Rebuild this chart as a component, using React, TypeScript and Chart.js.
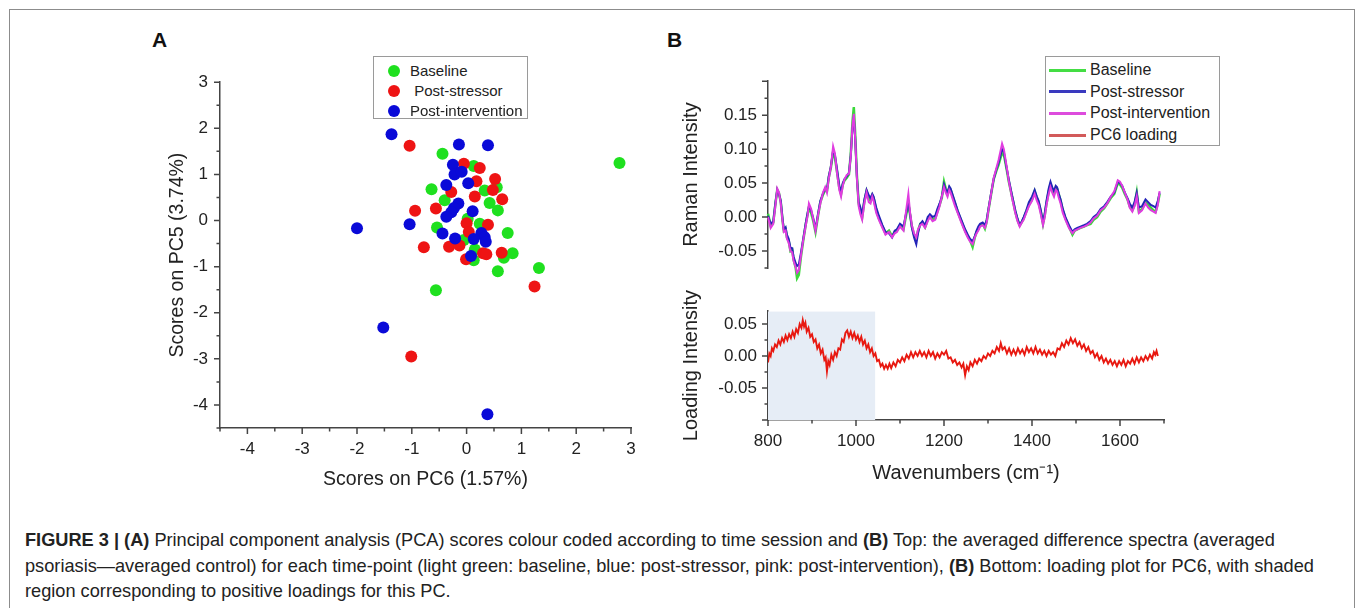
import React, { useEffect, useRef } from 'react';
import { Chart, registerables } from 'chart.js';

Chart.register(...registerables);

const FONT = "'Liberation Sans', Arial, Helvetica, sans-serif";
const AXIS_COLOR = '#444444';
const TEXT_COLOR = '#222222';

// ---------- Panel A: PCA scores ----------
const BASELINE_PC6 = [-0.44, 2.79, 0.13, -0.64, 0.33, 0.55, -0.40, 0.42, 0.57, 0.02, -0.54, 0.24, 0.75, -0.05, 0.15, 0.84, 0.68, 0.13, 0.57, 1.32, -0.56];
const BASELINE_PC5 = [1.45, 1.25, 1.18, 0.68, 0.65, 0.72, 0.44, 0.38, 0.22, 0.04, -0.15, -0.07, -0.27, -0.42, -0.63, -0.71, -0.81, -0.86, -1.10, -1.03, -1.51];
const STRESSOR_PC6 = [-1.04, -0.05, 0.24, 0.18, 0.52, -0.28, 0.48, 0.15, 0.65, -0.56, -0.94, 0.00, 0.39, 0.04, -0.78, -0.32, -0.13, 0.30, 0.36, 0.64, -0.01, 1.24, -1.01];
const STRESSOR_PC5 = [1.62, 1.23, 1.14, 0.85, 0.90, 0.62, 0.66, 0.52, 0.46, 0.26, 0.21, -0.06, -0.09, -0.25, -0.58, -0.57, -0.54, -0.71, -0.73, -0.70, -0.84, -1.43, -2.95];
const INTERVENTION_PC6 = [-1.37, -0.14, 0.39, -0.25, -0.22, -0.09, -0.37, 0.03, -0.15, -0.23, -0.28, 0.11, -0.37, -2.00, -1.04, -0.44, 0.27, 0.33, -0.21, 0.13, 0.35, 0.08, -1.52, 0.38];
const INTERVENTION_PC5 = [1.87, 1.65, 1.63, 1.21, 1.00, 1.06, 0.77, 0.81, 0.37, 0.27, 0.18, 0.20, 0.08, -0.17, -0.08, -0.28, -0.27, -0.36, -0.39, -0.40, -0.46, -0.77, -2.32, -4.20];

const A_TICKS = [-4, -3, -2, -1, 0, 1, 2, 3];
const A_MINOR = [-4.5, -3.5, -2.5, -1.5, -0.5, 0.5, 1.5, 2.5];

// ---------- Panel B top: averaged difference spectra ----------
const WN_TOP = [800, 806, 812, 817, 821, 825, 829, 833, 836, 840,
  843, 847, 851, 855, 858, 863, 866, 870, 875, 880,
  886, 890, 893, 898, 903, 908, 914, 919, 925, 930,
  934, 938, 943, 948, 952, 957, 962, 966, 970, 974,
  979, 984, 988, 992, 995, 998, 1002, 1006, 1010, 1014,
  1019, 1024, 1029, 1033, 1037, 1040, 1046, 1052, 1060, 1067,
  1075, 1082, 1088, 1093, 1100, 1108, 1114, 1119, 1123, 1127,
  1132, 1137, 1141, 1146, 1151, 1157, 1163, 1168, 1174, 1180,
  1185, 1190, 1195, 1200, 1204, 1208, 1212, 1215, 1220, 1225,
  1231, 1237, 1243, 1248, 1254, 1259, 1265, 1270, 1274, 1278,
  1282, 1288, 1293, 1297, 1301, 1307, 1313, 1319, 1324, 1328,
  1332, 1336, 1339, 1343, 1347, 1354, 1362, 1367, 1372, 1377,
  1381, 1387, 1393, 1400, 1406, 1411, 1415, 1420, 1425, 1429,
  1433, 1438, 1442, 1446, 1450, 1454, 1457, 1461, 1465, 1470,
  1476, 1484, 1492, 1497, 1503, 1510, 1518, 1525, 1533, 1540,
  1548, 1556, 1564, 1571, 1579, 1587, 1595, 1600, 1605, 1611,
  1617, 1622, 1628, 1633, 1638, 1643, 1650, 1658, 1664, 1670,
  1676, 1681, 1686, 1690];

const SPEC_BASELINE = [0.005, -0.012, -0.008, 0.020, 0.040, 0.035, 0.022, -0.005, -0.020, -0.018,
  -0.030, -0.035, -0.050, -0.048, -0.062, -0.075, -0.090, -0.085, -0.058, -0.035,
  -0.010, 0.004, 0.014, 0.006, -0.006, -0.022, 0.003, 0.022, 0.033, 0.040,
  0.038, 0.058, 0.073, 0.096, 0.088, 0.066, 0.043, 0.034, 0.048, 0.054,
  0.058, 0.063, 0.092, 0.140, 0.162, 0.125, 0.062, 0.020, 0.010, 0.000,
  0.023, 0.038, 0.028, 0.024, 0.032, 0.028, 0.010, -0.002, -0.014, -0.024,
  -0.020, -0.028, -0.022, -0.020, -0.012, -0.018, 0.003, 0.020, 0.003, -0.014,
  -0.026, -0.032, -0.020, -0.010, -0.008, -0.015, -0.004, 0.002, -0.004, -0.002,
  0.008, 0.018, 0.028, 0.052, 0.042, 0.034, 0.043, 0.040, 0.030, 0.020,
  0.008, -0.002, -0.012, -0.020, -0.028, -0.034, -0.044, -0.030, -0.022, -0.018,
  -0.012, -0.010, -0.017, -0.007, 0.010, 0.033, 0.056, 0.068, 0.077, 0.086,
  0.094, 0.092, 0.082, 0.068, 0.053, 0.032, 0.008, -0.004, -0.012, -0.007,
  -0.002, 0.008, 0.018, 0.026, 0.038, 0.028, 0.022, 0.008, -0.010, 0.003,
  0.020, 0.038, 0.048, 0.040, 0.034, 0.044, 0.042, 0.033, 0.024, 0.010,
  -0.002, -0.014, -0.026, -0.020, -0.018, -0.016, -0.014, -0.012, -0.010, -0.004,
  0.000, 0.008, 0.013, 0.020, 0.028, 0.034, 0.050, 0.048, 0.043, 0.034,
  0.026, 0.016, 0.010, 0.018, 0.036, 0.008, 0.012, 0.022, 0.018, 0.014,
  0.010, 0.008, 0.020, 0.034];

const SPEC_STRESSOR = [0.002, -0.010, -0.006, 0.022, 0.040, 0.034, 0.024, -0.002, -0.018, -0.015,
  -0.026, -0.032, -0.045, -0.046, -0.058, -0.068, -0.072, -0.070, -0.052, -0.032,
  -0.008, 0.006, 0.016, 0.010, -0.002, -0.018, 0.006, 0.024, 0.035, 0.042,
  0.040, 0.060, 0.075, 0.098, 0.092, 0.070, 0.046, 0.038, 0.050, 0.056,
  0.060, 0.065, 0.090, 0.130, 0.148, 0.118, 0.060, 0.022, 0.014, 0.004,
  0.026, 0.040, 0.032, 0.028, 0.034, 0.030, 0.014, 0.002, -0.012, -0.022,
  -0.024, -0.030, -0.020, -0.018, -0.010, -0.014, 0.006, 0.022, 0.004, -0.016,
  -0.030, -0.040, -0.024, -0.010, -0.006, -0.012, 0.000, 0.004, 0.000, 0.002,
  0.012, 0.020, 0.030, 0.048, 0.040, 0.036, 0.045, 0.042, 0.032, 0.022,
  0.010, 0.000, -0.010, -0.018, -0.026, -0.032, -0.036, -0.028, -0.020, -0.014,
  -0.010, -0.008, -0.012, -0.004, 0.012, 0.035, 0.056, 0.070, 0.080, 0.090,
  0.100, 0.096, 0.085, 0.070, 0.056, 0.034, 0.010, -0.002, -0.012, -0.006,
  0.000, 0.010, 0.022, 0.030, 0.040, 0.030, 0.024, 0.010, -0.008, 0.006,
  0.024, 0.042, 0.052, 0.044, 0.038, 0.046, 0.044, 0.034, 0.026, 0.012,
  0.000, -0.012, -0.022, -0.018, -0.016, -0.014, -0.012, -0.010, -0.006, 0.000,
  0.004, 0.012, 0.016, 0.022, 0.030, 0.036, 0.052, 0.050, 0.046, 0.036,
  0.028, 0.020, 0.014, 0.022, 0.036, 0.014, 0.016, 0.026, 0.022, 0.018,
  0.016, 0.014, 0.024, 0.036];

const SPEC_INTERVENTION = [0.000, -0.016, -0.010, 0.018, 0.042, 0.036, 0.020, -0.006, -0.022, -0.020,
  -0.032, -0.038, -0.050, -0.052, -0.064, -0.074, -0.082, -0.078, -0.056, -0.034,
  -0.012, 0.002, 0.020, 0.012, -0.004, -0.020, 0.004, 0.020, 0.036, 0.044,
  0.036, 0.056, 0.074, 0.104, 0.094, 0.064, 0.040, 0.030, 0.046, 0.056,
  0.062, 0.064, 0.088, 0.135, 0.152, 0.118, 0.058, 0.016, 0.004, -0.004,
  0.020, 0.036, 0.022, 0.020, 0.030, 0.024, 0.006, -0.004, -0.016, -0.026,
  -0.022, -0.030, -0.024, -0.022, -0.014, -0.020, 0.010, 0.034, 0.006, -0.012,
  -0.024, -0.030, -0.018, -0.012, -0.010, -0.016, -0.006, 0.000, -0.006, -0.004,
  0.006, 0.016, 0.030, 0.044, 0.036, 0.030, 0.040, 0.036, 0.026, 0.016,
  0.006, -0.004, -0.014, -0.022, -0.030, -0.036, -0.040, -0.030, -0.024, -0.020,
  -0.014, -0.012, -0.016, -0.008, 0.010, 0.034, 0.058, 0.072, 0.084, 0.096,
  0.108, 0.100, 0.088, 0.072, 0.054, 0.030, 0.006, -0.006, -0.014, -0.008,
  -0.004, 0.006, 0.016, 0.024, 0.034, 0.024, 0.018, 0.004, -0.012, 0.000,
  0.018, 0.034, 0.044, 0.036, 0.030, 0.040, 0.038, 0.028, 0.020, 0.006,
  -0.004, -0.016, -0.024, -0.020, -0.018, -0.016, -0.014, -0.012, -0.008, -0.002,
  0.002, 0.010, 0.014, 0.020, 0.030, 0.038, 0.054, 0.052, 0.046, 0.036,
  0.026, 0.014, 0.008, 0.016, 0.030, 0.006, 0.010, 0.020, 0.014, 0.010,
  0.008, 0.006, 0.018, 0.038];

// ---------- Panel B bottom: PC6 loading ----------
const WN_LOAD = [800, 803, 806, 809, 812, 816, 820, 824, 828, 832, 836, 840, 844, 848, 852, 856, 860, 864, 868, 872,
  876, 879, 882, 885, 888, 892, 896, 900, 904, 908, 912, 916, 920, 924, 928, 931, 934, 937, 940, 944,
  948, 952, 956, 960, 964, 968, 972, 976, 980, 984, 988, 992, 996, 1000, 1004, 1008, 1012, 1016, 1020, 1024,
  1028, 1032, 1036, 1040, 1044, 1048, 1052, 1056, 1060, 1064, 1068, 1072, 1076, 1080, 1085, 1090, 1095, 1100, 1105, 1110,
  1115, 1120, 1125, 1130, 1135, 1140, 1145, 1150, 1155, 1160, 1165, 1170, 1175, 1180, 1185, 1190, 1195, 1200, 1205, 1210,
  1215, 1220, 1225, 1230, 1235, 1240, 1244, 1248, 1252, 1256, 1260, 1265, 1270, 1275, 1280, 1285, 1290, 1295, 1300, 1305,
  1310, 1315, 1320, 1325, 1329, 1333, 1338, 1343, 1348, 1353, 1358, 1363, 1368, 1373, 1378, 1383, 1388, 1393, 1398, 1403,
  1408, 1413, 1418, 1423, 1428, 1433, 1438, 1443, 1448, 1453, 1458, 1463, 1468, 1473, 1478, 1483, 1488, 1493, 1498, 1503,
  1508, 1513, 1518, 1523, 1528, 1533, 1538, 1543, 1548, 1553, 1558, 1563, 1568, 1573, 1578, 1583, 1588, 1593, 1598, 1603,
  1608, 1613, 1618, 1623, 1628, 1633, 1638, 1643, 1648, 1653, 1658, 1663, 1668, 1673, 1677, 1680, 1683, 1686];

const PC6_LOADING = [-0.010, 0.004, 0.000, 0.012, 0.008, 0.018, 0.014, 0.024, 0.018, 0.028, 0.022, 0.032, 0.025, 0.034, 0.028, 0.038, 0.030, 0.042, 0.036, 0.050,
  0.044, 0.056, 0.046, 0.052, 0.038, 0.044, 0.030, 0.034, 0.022, 0.026, 0.012, 0.018, 0.004, 0.010, -0.006, -0.002, -0.024, -0.008, -0.014, 0.002,
  -0.006, 0.006, 0.000, 0.012, 0.010, 0.026, 0.022, 0.036, 0.040, 0.030, 0.038, 0.028, 0.036, 0.026, 0.032, 0.022, 0.030, 0.018, 0.024, 0.012,
  0.018, 0.006, 0.012, 0.000, 0.004, -0.008, -0.006, -0.016, -0.012, -0.020, -0.014, -0.020, -0.012, -0.019, -0.010, -0.016, -0.006, -0.010, -0.002, -0.008,
  0.002, -0.004, 0.006, -0.002, 0.006, 0.000, 0.008, 0.000, 0.006, -0.002, 0.008, 0.000, 0.006, -0.004, 0.004, -0.002, 0.006, 0.002, 0.008, -0.004,
  -0.002, -0.010, -0.006, -0.014, -0.010, -0.018, -0.012, -0.030, -0.016, -0.022, -0.010, -0.016, -0.006, -0.012, -0.004, -0.008, 0.000, -0.004, 0.004, 0.000,
  0.008, 0.004, 0.014, 0.008, 0.020, 0.010, 0.014, 0.004, 0.012, 0.002, 0.010, 0.002, 0.012, 0.004, 0.010, 0.002, 0.014, 0.006, 0.012, 0.004,
  0.014, 0.004, 0.010, 0.002, 0.008, 0.000, 0.008, 0.002, 0.006, 0.000, 0.012, 0.010, 0.020, 0.014, 0.024, 0.018, 0.028, 0.020, 0.026, 0.016,
  0.022, 0.012, 0.018, 0.008, 0.014, 0.004, 0.008, -0.002, 0.004, -0.006, 0.000, -0.010, -0.004, -0.012, -0.006, -0.014, -0.008, -0.016, -0.008, -0.014,
  -0.006, -0.016, -0.008, -0.012, -0.004, -0.012, -0.002, -0.010, -0.002, -0.008, 0.000, -0.006, 0.002, -0.004, 0.006, 0.002, 0.008, 0.000];

const SHADE_WN = [800, 1044];
const SHADE_TOP = [0.07, 0.07];

const B_X_TICKS = [800, 1000, 1200, 1400, 1600];
const B_X_MINOR = [900, 1100, 1300, 1500, 1700];
const B_TOP_Y_TICKS = [-0.05, 0, 0.05, 0.1, 0.15];
const B_TOP_Y_MARKS = [-0.05, 0, 0.05, 0.1, 0.15, 0.2];
const B_TOP_Y_MINOR = [-0.075, -0.025, 0.025, 0.075, 0.125, 0.175];
const B_BOT_Y_TICKS = [-0.05, 0, 0.05];
const B_BOT_Y_MARKS = [-0.1, -0.05, 0, 0.05];
const B_BOT_Y_MINOR = [-0.075, -0.025, 0.025];

const GREEN_DOT = '#1fe01f';
const RED_DOT = '#ee1414';
const BLUE_DOT = '#0a0ad8';
const SPEC_GREEN = '#3ad83a';
const SPEC_BLUE = '#2424b8';
const SPEC_PINK = '#e03ce0';
const LOAD_RED = '#e81810';

const tickMarksPlugin = {
  id: 'tickMarks',
  afterDraw(chart: any, _args: any, opts: any) {
    const axes = (opts && opts.axes) || {};
    const ctx = chart.ctx;
    Object.keys(axes).forEach((id) => {
      const scale = chart.scales[id];
      const cfg = axes[id];
      if (!scale) return;
      ctx.save();
      ctx.strokeStyle = AXIS_COLOR;
      ctx.lineWidth = 1.5;
      ctx.beginPath();
      const mark = (v: number, len: number) => {
        const p = scale.getPixelForValue(v);
        if (scale.isHorizontal()) {
          ctx.moveTo(p, scale.top);
          ctx.lineTo(p, scale.top + len);
        } else {
          ctx.moveTo(scale.right, p);
          ctx.lineTo(scale.right - len, p);
        }
      };
      cfg.major.forEach((v: number) => mark(v, 6));
      cfg.minor.forEach((v: number) => mark(v, 3.5));
      ctx.stroke();
      ctx.restore();
    });
  },
};

const tickFont = { size: 17, family: FONT };
const titleFont = { size: 19.5, family: FONT };
const titleFontB = { size: 20, family: FONT };

function pts(xs: number[], ys: number[]) {
  return xs.map((x, i) => ({ x, y: ys[i] }));
}

export default function App() {
  const aRef = useRef<HTMLCanvasElement>(null);
  const bTopRef = useRef<HTMLCanvasElement>(null);
  const bBotRef = useRef<HTMLCanvasElement>(null);

  useEffect(() => {
    Chart.defaults.font.family = FONT;
    const charts: Chart[] = [];

    charts.push(new Chart(aRef.current as HTMLCanvasElement, {
      type: 'scatter',
      data: {
        datasets: [
          { label: 'Post-intervention', data: pts(INTERVENTION_PC6, INTERVENTION_PC5), backgroundColor: BLUE_DOT, borderWidth: 0, pointRadius: 6 },
          { label: 'Post-stressor', data: pts(STRESSOR_PC6, STRESSOR_PC5), backgroundColor: RED_DOT, borderWidth: 0, pointRadius: 6 },
          { label: 'Baseline', data: pts(BASELINE_PC6, BASELINE_PC5), backgroundColor: GREEN_DOT, borderWidth: 0, pointRadius: 6 },
        ],
      },
      options: {
        responsive: false,
        animation: false,
        layout: { padding: { left: 0, top: 22, right: 29, bottom: 0 } },
        plugins: {
          legend: { display: false },
          tooltip: { enabled: false },
          tickMarks: { axes: { x: { major: A_TICKS, minor: A_MINOR }, y: { major: A_TICKS, minor: A_MINOR } } },
        } as any,
        scales: {
          x: {
            type: 'linear', min: -4.5, max: 3,
            grid: { display: false, drawTicks: false },
            border: { display: true, color: AXIS_COLOR, width: 1.5 },
            afterBuildTicks: (s: any) => { s.ticks = A_TICKS.map((v) => ({ value: v })); },
            afterFit: (s: any) => { s.height = 72; },
            ticks: { padding: 11, color: TEXT_COLOR, font: tickFont, maxRotation: 0, autoSkip: false, callback: (v: any) => String(v) },
            title: { display: true, text: 'Scores on PC6 (1.57%)', color: TEXT_COLOR, font: titleFont, padding: { top: 0, bottom: 9 } },
          },
          y: {
            type: 'linear', min: -4.5, max: 3,
            grid: { display: false, drawTicks: false },
            border: { display: true, color: AXIS_COLOR, width: 1.5 },
            afterBuildTicks: (s: any) => { s.ticks = A_TICKS.map((v) => ({ value: v })); },
            afterFit: (s: any) => { s.width = 80; },
            ticks: { padding: 12, color: TEXT_COLOR, font: tickFont, autoSkip: false, callback: (v: any) => String(v) },
            title: { display: true, text: 'Scores on PC5 (3.74%)', color: TEXT_COLOR, font: titleFont, padding: { top: 26, bottom: 0 } },
          },
        },
      },
      plugins: [tickMarksPlugin],
    } as any));

    charts.push(new Chart(bTopRef.current as HTMLCanvasElement, {
      type: 'line',
      data: {
        datasets: [
          { label: 'Post-intervention', data: pts(WN_TOP, SPEC_INTERVENTION), borderColor: SPEC_PINK, borderWidth: 2, pointRadius: 0, clip: false, order: 1 },
          { label: 'Post-stressor', data: pts(WN_TOP, SPEC_STRESSOR), borderColor: SPEC_BLUE, borderWidth: 2, pointRadius: 0, clip: false, order: 2 },
          { label: 'Baseline', data: pts(WN_TOP, SPEC_BASELINE), borderColor: SPEC_GREEN, borderWidth: 2.5, pointRadius: 0, clip: false, order: 3 },
        ],
      },
      options: {
        responsive: false,
        animation: false,
        layout: { padding: { left: 0, top: 21, right: 56, bottom: 22 } },
        plugins: {
          legend: { display: false },
          tooltip: { enabled: false },
          tickMarks: { axes: { y: { major: B_TOP_Y_MARKS, minor: B_TOP_Y_MINOR } } },
        } as any,
        scales: {
          x: { type: 'linear', min: 800, max: 1700, display: false },
          y: {
            type: 'linear', min: -0.075, max: 0.2,
            grid: { display: false, drawTicks: false },
            border: { display: true, color: AXIS_COLOR, width: 1.5 },
            afterBuildTicks: (s: any) => { s.ticks = B_TOP_Y_TICKS.map((v) => ({ value: v })); },
            afterFit: (s: any) => { s.width = 108; },
            ticks: { padding: 11, color: TEXT_COLOR, font: tickFont, autoSkip: false, callback: (v: any) => Number(v).toFixed(2) },
            title: { display: true, text: 'Raman Intensity', color: TEXT_COLOR, font: titleFontB, padding: { top: 19, bottom: 0 } },
          },
        },
      },
      plugins: [tickMarksPlugin],
    } as any));

    charts.push(new Chart(bBotRef.current as HTMLCanvasElement, {
      type: 'line',
      data: {
        datasets: [
          { label: 'PC6 loading', data: pts(WN_LOAD, PC6_LOADING), borderColor: LOAD_RED, borderWidth: 1.9, pointRadius: 0, order: 1 },
          { label: 'shade', data: pts(SHADE_WN, SHADE_TOP), borderWidth: 0, borderColor: 'rgba(0,0,0,0)', backgroundColor: '#e6edf6', fill: 'start', pointRadius: 0, order: 2 },
        ],
      },
      options: {
        responsive: false,
        animation: false,
        layout: { padding: { left: 0, top: 15, right: 56, bottom: 0 } },
        plugins: {
          legend: { display: false },
          tooltip: { enabled: false },
          tickMarks: { axes: { x: { major: B_X_TICKS, minor: B_X_MINOR }, y: { major: B_BOT_Y_MARKS, minor: B_BOT_Y_MINOR } } },
        } as any,
        scales: {
          x: {
            type: 'linear', min: 800, max: 1700,
            grid: { display: false, drawTicks: false },
            border: { display: true, color: AXIS_COLOR, width: 1.5 },
            afterBuildTicks: (s: any) => { s.ticks = B_X_TICKS.map((v) => ({ value: v })); },
            afterFit: (s: any) => { s.height = 90; },
            ticks: { padding: 11, color: TEXT_COLOR, font: tickFont, maxRotation: 0, autoSkip: false, callback: (v: any) => String(v) },
            title: { display: true, text: 'Wavenumbers (cm⁻¹)', color: TEXT_COLOR, font: titleFontB, padding: { top: 0, bottom: 25 } },
          },
          y: {
            type: 'linear', min: -0.1, max: 0.07,
            grid: { display: false, drawTicks: false },
            border: { display: true, color: AXIS_COLOR, width: 1.5 },
            afterBuildTicks: (s: any) => { s.ticks = B_BOT_Y_TICKS.map((v) => ({ value: v })); },
            afterFit: (s: any) => { s.width = 108; },
            ticks: { padding: 11, color: TEXT_COLOR, font: tickFont, autoSkip: false, callback: (v: any) => Number(v).toFixed(2) },
            title: { display: true, text: 'Loading Intensity', color: TEXT_COLOR, font: titleFontB, padding: { top: 19, bottom: 0 } },
          },
        },
      },
      plugins: [tickMarksPlugin],
    } as any));

    return () => charts.forEach((c) => c.destroy());
  }, []);

  const abs = (l: number, t: number, extra: React.CSSProperties = {}): React.CSSProperties => ({ position: 'absolute', left: l, top: t, ...extra });

  const legendA = [
    { label: 'Baseline', color: GREEN_DOT },
    { label: ' Post-stressor', color: RED_DOT },
    { label: 'Post-intervention', color: BLUE_DOT },
  ];
  const legendB = [
    { label: 'Baseline', color: '#44dd44' },
    { label: 'Post-stressor', color: '#3a3abf' },
    { label: 'Post-intervention', color: '#dd4cdd' },
    { label: 'PC6 loading', color: '#d25a5a' },
  ];

  return (
    <div style={{ position: 'absolute', left: 0, top: 0, width: 1355, height: 608, background: '#ffffff', overflow: 'hidden', fontFamily: FONT, color: TEXT_COLOR }}>
      <div style={abs(9, 9, { width: 1346, height: 620, boxSizing: 'border-box', border: '1px solid #8c8c8c', borderBottom: 'none' })} />

      <div style={abs(152, 29, { fontSize: 21, fontWeight: 'bold', lineHeight: '21px', color: '#111' })}>A</div>
      <div style={abs(667, 29, { fontSize: 21, fontWeight: 'bold', lineHeight: '21px', color: '#111' })}>B</div>

      <canvas ref={aRef} width={520} height={440} style={abs(140, 60, { width: 520, height: 440 })} />
      <canvas ref={bTopRef} width={560} height={230} style={abs(660, 60, { width: 560, height: 230 })} />
      <canvas ref={bBotRef} width={560} height={220} style={abs(660, 290, { width: 560, height: 220 })} />

      <div style={abs(373, 56, { width: 155, height: 63, boxSizing: 'border-box', border: '1px solid #9a9a9a', background: '#fff' })}>
        {legendA.map((e, i) => (
          <div key={e.label} style={abs(0, 4 + i * 20, { width: 153, height: 20 })}>
            <div style={abs(14, 4, { width: 12, height: 12, borderRadius: '50%', background: e.color })} />
            <div style={abs(36, 0, { fontSize: 15, lineHeight: '20px', whiteSpace: 'pre' })}>{e.label}</div>
          </div>
        ))}
      </div>

      <div style={abs(1045, 56, { width: 175, height: 90, boxSizing: 'border-box', border: '1px solid #9a9a9a', background: '#fff' })}>
        {legendB.map((e, i) => (
          <div key={e.label} style={abs(0, 2 + i * 21.7, { width: 173, height: 22 })}>
            <div style={abs(3, 9.5, { width: 37, height: 3, background: e.color })} />
            <div style={abs(44, 0, { fontSize: 16, lineHeight: '22px', whiteSpace: 'pre' })}>{e.label}</div>
          </div>
        ))}
      </div>

      <div style={abs(25, 528, { fontSize: 18.2, lineHeight: '25.5px', whiteSpace: 'nowrap', color: '#222' })}>
        <div><b>FIGURE 3 | (A)</b> Principal component analysis (PCA) scores colour coded according to time session and <b>(B)</b> Top: the averaged difference spectra (averaged</div>
        <div>psoriasis—averaged control) for each time-point (light green: baseline, blue: post-stressor, pink: post-intervention), <b>(B)</b> Bottom: loading plot for PC6, with shaded</div>
        <div>region corresponding to positive loadings for this PC.</div>
      </div>
    </div>
  );
}
